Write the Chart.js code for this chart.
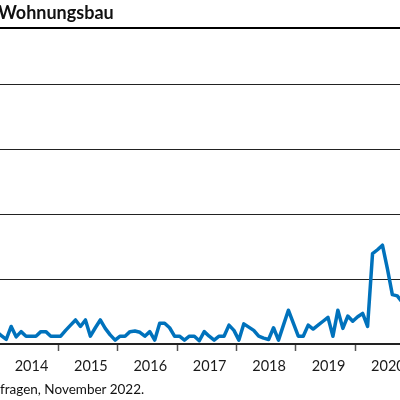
<!DOCTYPE html>
<html>
<head>
<meta charset="utf-8">
<script src="https://cdn.jsdelivr.net/npm/chart.js@4.4.0/dist/chart.umd.min.js"></script>
<style>
    body { margin: 0; background: #fff; }
    #wrap { position: relative; width: 400px; height: 400px; overflow: hidden; }
    #title { position: absolute; left: -2px; top: 3px; font: bold 18px/18px Lato, sans-serif; color: #111; white-space: nowrap; }
    #rule { position: absolute; left: 0; top: 26.5px; width: 400px; height: 2.5px; background: #000; }
    #source { position: absolute; left: 0; top: 383px; font: 13.5px/13px Lato, sans-serif; color: #111; white-space: nowrap; }
    #chart { position: absolute; left: 0; top: 0; }
</style>
</head>
<body>
<div id="wrap">
    <canvas id="chart" width="400" height="400"></canvas>
    <div id="title">Wohnungsbau</div>
    <div id="rule"></div>
    <div id="source">fragen, November 2022.</div>
</div>
<script>
// monthly series, first value is December 2013
const startYear = 2013;
const startMonth = 12;
const values = [
    1.9,
    // 2014
    1.3, 0.7, 2.7, 1.1, 1.9, 1.2, 1.2, 1.2, 1.9, 1.9, 1.2, 1.2,
    // 2015
    1.2, 2.1, 2.9, 3.7, 2.7, 3.7, 1.2, 2.5, 3.7, 2.4, 1.4, 0.6,
    // 2016
    1.2, 1.2, 1.9, 2.0, 1.8, 1.2, 1.9, 0.6, 3.2, 3.2, 2.5, 1.2,
    // 2017
    1.2, 0.6, 1.2, 1.2, 0.5, 1.9, 1.2, 0.6, 1.2, 1.2, 2.9, 2.1,
    // 2018
    0.6, 3.1, 2.6, 2.1, 1.2, 0.9, 0.7, 2.5, 0.6, 2.9, 5.2, 3.2,
    // 2019
    1.2, 1.2, 2.9, 2.3, 2.9, 3.5, 4.1, 1.2, 5.2, 2.4, 4.3, 3.5,
    // 2020
    4.2, 4.7, 2.7, 13.9, 14.5, 15.2, 11.6, 7.6, 7.4, 6.4
];

// year tick labels on the x axis
const years = [2014, 2015, 2016, 2017, 2018, 2019, 2020];
const yTicks = [0, 10, 20, 30, 40];

// month centre as fractional year
const points = values.map((v, i) => {
    const m = startMonth - 1 + i;
    return { x: startYear + Math.floor(m / 12) + ((m % 12) + 0.5) / 12, y: v };
});

// tick marks at the year boundaries, labels mid year
const xTicks = [];
years.forEach(y => {
    if (y > 2014) xTicks.push({ value: y });
    xTicks.push({ value: y + 0.55 });
});
const isBoundary = v => Math.abs(v - Math.round(v)) < 0.01;

const ctx = document.getElementById('chart').getContext('2d');
new Chart(ctx, {
    type: 'line',
    data: {
        datasets: [{
            data: points,
            borderColor: '#0072bc',
            borderWidth: 3.5,
            borderJoinStyle: 'round',
            pointRadius: 0,
            tension: 0
        }]
    },
    options: {
        responsive: false,
        animation: false,
        devicePixelRatio: 1,
        layout: { padding: { top: 84, bottom: 0, left: 0, right: 0 } },
        plugins: { legend: { display: false }, tooltip: { enabled: false } },
        scales: {
            x: {
                type: 'linear',
                min: 2014.02,
                max: 2020.754,
                afterBuildTicks: axis => { axis.ticks = xTicks.map(t => ({ value: t.value })); },
                afterFit: axis => { axis.height = 56; axis.paddingLeft = 0; axis.paddingRight = 0; },
                grid: {
                    drawOnChartArea: false,
                    tickLength: 7,
                    tickWidth: 1.5,
                    tickColor: c => (c.tick && isBoundary(c.tick.value)) ? '#555' : 'rgba(0,0,0,0)'
                },
                border: { display: true, color: '#222', width: 2 },
                ticks: {
                    autoSkip: false,
                    maxRotation: 0,
                    minRotation: 0,
                    padding: 7,
                    color: '#1a1a1a',
                    font: { family: 'Lato', size: 14.5 },
                    callback: v => isBoundary(v) ? '' : String(Math.floor(v))
                }
            },
            y: {
                min: 0,
                max: 40,
                afterBuildTicks: axis => { axis.ticks = yTicks.map(v => ({ value: v })); },
                afterFit: axis => { axis.width = 0; },
                grid: { color: '#222', lineWidth: 1, drawTicks: false },
                border: { display: false },
                ticks: { display: false }
            }
        }
    }
});
</script>
</body>
</html>
